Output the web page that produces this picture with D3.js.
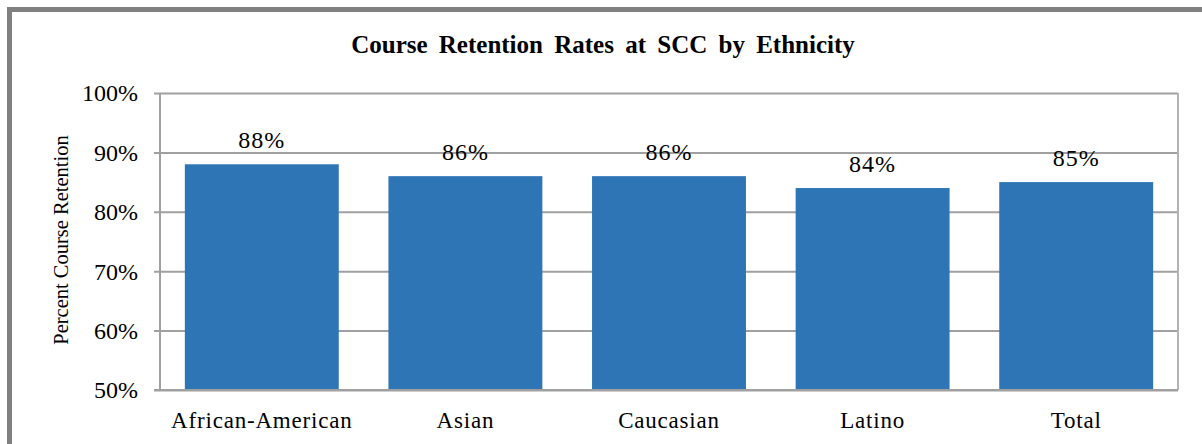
<!DOCTYPE html>
<html>
<head>
<meta charset="utf-8">
<script src="https://cdn.jsdelivr.net/npm/d3@7"></script>
<style>
  body { margin: 0; background: #fff; }
  svg { display: block; }
  text { font-family: "Liberation Serif", "Times New Roman", serif; }
</style>
</head>
<body>
<div id="chart"></div>
<script>
// data
var categories = ["African-American", "Asian", "Caucasian", "Latino", "Total"];
var retention = [88, 86, 86, 84, 85];
var yTicks = [50, 60, 70, 80, 90, 100];

var W = 1202, H = 444;
var margin = { top: 93, right: 24, bottom: 54, left: 160 };
var width = W - margin.left - margin.right;
var height = H - margin.top - margin.bottom;
var serif = "Liberation Serif";

var svg = d3.select("#chart").append("svg")
    .attr("width", W)
    .attr("height", H);

// outer frame (runs off the right and bottom of the picture)
svg.append("rect")
    .attr("x", 9.5).attr("y", 9.5)
    .attr("width", W + 20).attr("height", H + 20)
    .attr("fill", "#fff")
    .attr("stroke", "#808080")
    .attr("stroke-width", 5);

// title
svg.append("text")
    .attr("x", 603).attr("y", 53)
    .attr("text-anchor", "middle")
    .attr("font-family", serif)
    .style("font-size", "25px")
    .style("font-weight", "bold")
    .style("word-spacing", "5px")
    .text("Course Retention Rates at SCC by Ethnicity");

var g = svg.append("g")
    .attr("transform", "translate(" + margin.left + "," + margin.top + ")");

var x = d3.scaleBand()
    .domain(categories)
    .range([0, width])
    .paddingInner(0.244)
    .paddingOuter(0.122);

var y = d3.scaleLinear()
    .domain([50, 100])
    .range([height, 0]);

// gridlines + left ticks
var yAxis = g.append("g")
    .call(d3.axisLeft(y)
        .tickValues(yTicks)
        .tickSize(-width)
        .tickPadding(22)
        .tickFormat(function(d) { return d + "%"; }))
    .attr("font-family", serif);
yAxis.select(".domain").remove();
yAxis.selectAll(".tick line")
    .attr("x1", -6)
    .attr("stroke", "#a0a0a0")
    .attr("stroke-width", 2);
yAxis.selectAll(".tick text")
    .attr("fill", "#000")
    .attr("dy", "0.33em")
    .style("font-size", "24px");

// right border of plot area
g.append("line")
    .attr("x1", width).attr("x2", width)
    .attr("y1", 0).attr("y2", height)
    .attr("stroke", "#b4b4b4")
    .attr("stroke-width", 2);

// bars
g.selectAll(".bar")
    .data(retention)
    .enter().append("rect")
    .attr("class", "bar")
    .attr("x", function(d, i) { return x(categories[i]); })
    .attr("width", x.bandwidth())
    .attr("y", function(d) { return y(d); })
    .attr("height", function(d) { return height - y(d); })
    .attr("fill", "#2e75b6");

// value labels
g.selectAll(".lbl")
    .data(retention)
    .enter().append("text")
    .attr("class", "lbl")
    .attr("x", function(d, i) { return x(categories[i]) + x.bandwidth() / 2; })
    .attr("y", function(d) { return y(d) - 16; })
    .attr("text-anchor", "middle")
    .attr("font-family", serif)
    .style("font-size", "24px")
    .style("letter-spacing", "1px")
    .text(function(d) { return d + "%"; });

// axis lines
g.append("line")
    .attr("x1", 0).attr("x2", 0)
    .attr("y1", 0).attr("y2", height)
    .attr("stroke", "#a0a0a0")
    .attr("stroke-width", 2);
g.append("line")
    .attr("x1", -6).attr("x2", width)
    .attr("y1", height).attr("y2", height)
    .attr("stroke", "#a0a0a0")
    .attr("stroke-width", 2);

// category labels
var xAxis = g.append("g")
    .attr("transform", "translate(0," + height + ")")
    .call(d3.axisBottom(x).tickSize(0).tickPadding(0))
    .attr("font-family", serif);
xAxis.select(".domain").remove();
xAxis.selectAll(".tick text")
    .attr("fill", "#000")
    .attr("dy", 0)
    .attr("y", 38)
    .style("font-size", "23px")
    .style("letter-spacing", "0.8px");

// y axis title
svg.append("text")
    .attr("transform", "translate(68,240) rotate(-90)")
    .attr("text-anchor", "middle")
    .attr("font-family", serif)
    .style("font-size", "20.5px")
    .text("Percent Course Retention");
</script>
</body>
</html>
